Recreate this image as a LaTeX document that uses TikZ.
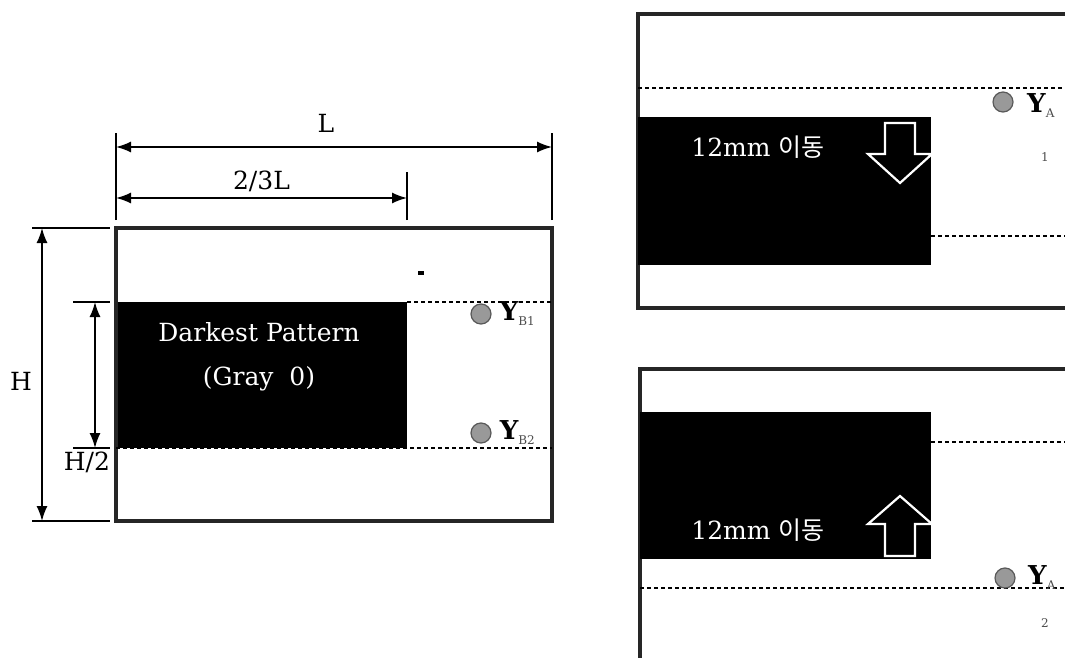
\documentclass[tikz,border=0pt]{standalone}
\usepackage{fontspec}
\setmainfont{DejaVu Serif}
\newfontfamily\krfont{Noto Sans CJK KR}
\usetikzlibrary{arrows.meta,positioning}

\newcommand\subtag[1]{\raisebox{-5pt}{\fontsize{12}{12}\selectfont\mdseries\color{black!70}#1}}

\begin{document}
\begin{tikzpicture}[x=1pt,y=-1pt,
  frame/.style={draw=black!85,line width=3.2pt,inner sep=0pt,outer sep=0pt},
  dark/.style={fill=black,inner sep=0pt,outer sep=0pt},
  dim/.style={line width=1.6pt,{Latex[length=15pt,width=11pt]}-{Latex[length=15pt,width=11pt]}},
  ext/.style={line width=1.3pt},
  guide/.style={line width=1.4pt,dash pattern=on 4pt off 3pt},
  probe/.style={circle,draw=black!65,fill=black!40,line width=1.2pt,minimum size=20pt,inner sep=0pt},
  lbl/.style={font=\fontsize{25}{27}\selectfont},
  wlbl/.style={lbl,text=white},
  ylbl/.style={font=\fontsize{26}{28}\selectfont\bfseries,inner sep=1pt,anchor=west},
  hollow/.style={draw=white,fill=black,line width=2.2pt,line join=miter},
  tag/.style={font=\fontsize{12}{12}\selectfont,text=black!70}]
\useasboundingbox (0,0) rectangle (1065,658);
\clip (0,0) rectangle (1065,658);

% left: plate with darkest pattern
\node[dark,minimum width=291pt,minimum height=146pt,anchor=north west] (dk) at (116,302) {};
\node[frame,minimum width=436pt,minimum height=293pt,anchor=north west] (plate) at (116,228) {};
\node[wlbl,align=center] (dktxt) at (259,357) {Darkest Pattern\\[17pt](Gray~ 0)};
\node[fill=black,minimum width=6pt,minimum height=4pt,inner sep=0pt] (speck) at (421,273) {};

\draw[guide] (dk.north east) -- (plate.east |- dk.north east);
\draw[guide] (dk.south west) -- (plate.east |- dk.south west);

\node[probe] (yb1) at (481,314) {};
\node[ylbl,xshift=7pt] (yb1txt) at (yb1.east) {Y\subtag{B1}};
\node[probe] (yb2) at (481,433) {};
\node[ylbl,xshift=7pt] (yb2txt) at (yb2.east) {Y\subtag{B2}};

% dimensions
\coordinate (lA) at (116,147);
\coordinate (lB) at (552,147);
\coordinate (tA) at (116,198);
\coordinate (tB) at (407,198);
\draw[ext] (plate.north west) ++(0,-8) -- (plate.north west |- 0,133);
\draw[ext] (plate.north east) ++(0,-8) -- (plate.north east |- 0,133);
\draw[ext] (dk.north east |- 0,220) -- (dk.north east |- 0,172);
\draw[dim] (lA) -- (lB) node[midway,above=10pt,lbl,xshift=-8pt] (ltxt) {L};
\draw[dim] (tA) -- (tB) node[midway,above=2pt,lbl] (ttxt) {2/3L};

\coordinate (hA) at (42,228);
\coordinate (hB) at (42,521);
\coordinate (gA) at (95,302);
\coordinate (gB) at (95,448);
\draw[ext] (32,228) -- (110,228);
\draw[ext] (32,521) -- (110,521);
\draw[ext] (73,302) -- (110,302);
\draw[ext] (73,448) -- (110,448);
\draw[dim] (hA) -- (hB) node[midway,left=6pt,lbl,yshift=-7pt] (htxt) {H};
\draw[dim] (gA) -- (gB) node[below=0pt,lbl,xshift=-8pt] (gtxt) {H/2};

% right top: pattern moved down
\node[frame,minimum width=460pt,minimum height=294pt,anchor=north west] (panA) at (638,14) {};
\node[dark,minimum width=293pt,minimum height=148pt,anchor=north west] (dkA) at (638,117) {};
\draw[guide] (panA.west |- 0,88) -- (panA.east |- 0,88);
\draw[guide] (dkA.east |- 0,236) -- (panA.east |- 0,236);
\node[wlbl] (mvA) at (758,147) {12mm {\krfont 이동}};
\coordinate (arA) at (900,123);
\draw[hollow] (arA) ++(-15,0) -- ++(30,0) -- ++(0,31) -- ++(17,0) -- ++(-32,29) -- ++(-32,-29) -- ++(17,0) -- cycle;
\node[probe] (yaA) at (1003,102) {};
\node[ylbl] (yaAtxt) at (1026,106) {Y\subtag{A}};
\node[tag] (nA) at (1045,157) {1};

% right bottom: pattern moved up
\node[frame,minimum width=460pt,minimum height=330pt,anchor=north west] (panB) at (640,369) {};
\node[dark,minimum width=291pt,minimum height=147pt,anchor=north west] (dkB) at (640,412) {};
\draw[guide] (dkB.east |- 0,442) -- (panB.east |- 0,442);
\draw[guide] (panB.west |- 0,588) -- (panB.east |- 0,588);
\node[wlbl] (mvB) at (758,530) {12mm {\krfont 이동}};
\coordinate (arB) at (900,556);
\draw[hollow] (arB) ++(-15,0) -- ++(30,0) -- ++(0,-32) -- ++(17,0) -- ++(-32,-28) -- ++(-32,28) -- ++(17,0) -- cycle;
\node[probe] (yaB) at (1005,578) {};
\node[ylbl] (yaBtxt) at (1027,578) {Y\subtag{A}};
\node[tag] (nB) at (1045,623) {2};

\end{tikzpicture}
\end{document}
